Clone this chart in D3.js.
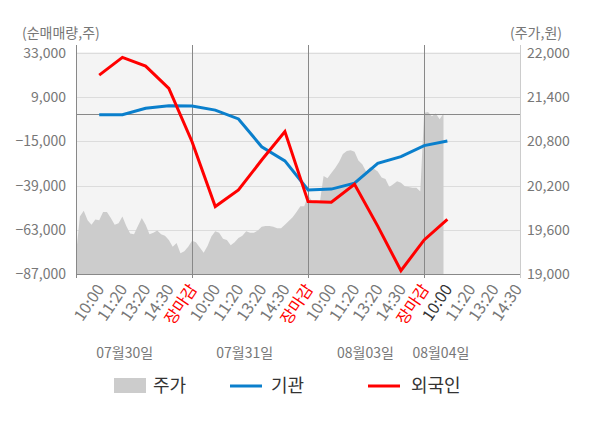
<!DOCTYPE html>
<html>
<head>
<meta charset="utf-8">
<script src="https://cdn.jsdelivr.net/npm/d3@7"></script>
<style>
  body { margin: 0; background: #fff; }
  svg { display: block; font-family: "Noto Sans CJK KR", "Noto Sans", sans-serif; }
</style>
</head>
<body>
<svg id="chart"></svg>
<script>
// x categories (one slot each), day labels
const xLabels = ['10:00', '11:20', '13:20', '14:30', '장마감',
                 '10:00', '11:20', '13:20', '14:30', '장마감',
                 '10:00', '11:20', '13:20', '14:30', '장마감',
                 '10:00', '11:20', '13:20', '14:30'];
const dayLabels = ['07월30일', '07월31일', '08월03일', '08월04일'];

// net buying (shares), one point per slot 1..16
const institution = [-500, -500, 3000, 4400, 4200, 2000, -2800, -17900,
                     -25600, -41400, -40900, -37700, -26900, -23300, -17300, -14800];
const foreigner = [21000, 30600, 25900, 13800, -15200, -50400, -41400, -25100,
                   -9700, -47700, -48000, -38300, -61000, -85200, -68500, -57300];

// stock price (won), sampled 6 times per slot
const priceDay1 = [19260, 19780, 19860, 19730, 19670, 19740, 19730, 19840, 19840, 19760,
                   19670, 19690, 19780, 19650, 19550, 19540, 19650, 19760, 19670, 19540,
                   19560, 19590, 19540, 19520, 19460, 19370, 19420, 19280, 19310, 19370, 19450];
const priceDay2 = [19430, 19360, 19290, 19380, 19510, 19580, 19560, 19480, 19460, 19390,
                   19430, 19490, 19520, 19580, 19560, 19560, 19590, 19640, 19650, 19650,
                   19640, 19620, 19620, 19670, 19720, 19770, 19840, 19920, 19920, 20070];
const priceDay3 = [19990, 19960, 19960, 20330, 20300, 20370, 20440, 20520, 20630, 20670,
                   20680, 20660, 20540, 20490, 20390, 20450, 20430, 20390, 20310, 20290,
                   20180, 20220, 20260, 20240, 20190, 20180, 20170, 20170, 20120, 21190];
const priceDay4 = [21200, 21140, 21180, 21100, 21180];

const leftTicks = [33000, 9000, -15000, -39000, -63000, -87000];
const rightTicks = [22000, 21400, 20800, 20200, 19600, 19000];

const width = 600;
const height = 428;
const plotL = 76, plotR = 520, plotT = 53, plotB = 274;

const svg = d3.select('#chart')
  .attr('width', width)
  .attr('height', height);

const x = d3.scaleLinear().domain([0, 19]).range([plotL, 517]);
const yL = d3.scaleLinear().domain([-87000, 33000]).range([plotB, plotT]);
const yR = d3.scaleLinear().domain([19000, 22000]).range([plotB, plotT]);

// plot background
svg.append('rect')
  .attr('x', plotL).attr('y', plotT - 1)
  .attr('width', plotR - plotL).attr('height', plotB - plotT + 1)
  .attr('fill', '#f4f4f4');

// horizontal grid
svg.append('g')
  .selectAll('line')
  .data(leftTicks)
  .enter()
  .append('line')
  .attr('x1', plotL).attr('x2', plotR)
  .attr('y1', d => Math.round(yL(d)) + 0.5)
  .attr('y2', d => Math.round(yL(d)) + 0.5)
  .attr('stroke', '#dcdcdc');

// price area
const prices = priceDay1.concat(priceDay2, priceDay3, priceDay4);
const area = d3.area()
  .x((d, i) => x(i / 6))
  .y0(plotB)
  .y1(d => yR(d));
svg.append('path')
  .datum(prices)
  .attr('d', area)
  .attr('fill', '#cccccc');

// zero line
svg.append('line')
  .attr('x1', plotL).attr('x2', plotR)
  .attr('y1', Math.round(yL(0)) + 0.5).attr('y2', Math.round(yL(0)) + 0.5)
  .attr('stroke', '#888');

// day separators + left axis
const bounds = [0, 5, 10, 15];
svg.append('g')
  .selectAll('line')
  .data(bounds)
  .enter()
  .append('line')
  .attr('x1', d => Math.round(x(d)) + 0.5)
  .attr('x2', d => Math.round(x(d)) + 0.5)
  .attr('y1', 45).attr('y2', plotB + 4)
  .attr('stroke', '#888');

// right axis
svg.append('line')
  .attr('x1', plotR + 0.5).attr('x2', plotR + 0.5)
  .attr('y1', 45).attr('y2', plotB + 4)
  .attr('stroke', '#ccc');

// bottom axis
svg.append('line')
  .attr('x1', plotL).attr('x2', plotR)
  .attr('y1', plotB + 0.5).attr('y2', plotB + 0.5)
  .attr('stroke', '#888');

// lines
const line = d3.line()
  .x((d, i) => x(i + 1))
  .y(d => yL(d));

svg.append('path')
  .datum(institution)
  .attr('d', line)
  .attr('fill', 'none')
  .attr('stroke', '#0a7fcc')
  .attr('stroke-width', 3);

svg.append('path')
  .datum(foreigner)
  .attr('d', line)
  .attr('fill', 'none')
  .attr('stroke', '#ff0000')
  .attr('stroke-width', 3);

// left tick labels
svg.append('g')
  .selectAll('text')
  .data(leftTicks)
  .enter()
  .append('text')
  .attr('x', 66)
  .attr('y', d => yL(d))
  .attr('dy', '0.35em')
  .attr('text-anchor', 'end')
  .attr('font-size', 14)
  .attr('fill', '#777')
  .text(d => d3.format(',')(d));

// right tick labels
svg.append('g')
  .selectAll('text')
  .data(rightTicks)
  .enter()
  .append('text')
  .attr('x', 527)
  .attr('y', d => yR(d))
  .attr('dy', '0.35em')
  .attr('font-size', 14)
  .attr('fill', '#777')
  .text(d => d3.format(',')(d));

svg.append('text')
  .attr('x', 22).attr('y', 38)
  .attr('font-size', 14).attr('fill', '#777')
  .text('(순매매량,주)');

svg.append('text')
  .attr('x', 510).attr('y', 38)
  .attr('font-size', 14).attr('fill', '#777')
  .text('(주가,원)');

// x tick labels
svg.append('g')
  .selectAll('text')
  .data(xLabels)
  .enter()
  .append('text')
  .attr('transform', (d, i) => `translate(${x(i + 1) + 1},${plotB + 12}) rotate(-56)`)
  .attr('text-anchor', 'end')
  .attr('dy', '0.35em')
  .attr('font-size', 16)
  .attr('fill', (d, i) => d === '장마감' ? '#ff0000' : (i === 15 ? '#333' : '#777'))
  .text(d => d);

// day labels
const dayAt = [2.1, 7.27, 12.47, 15.72];
svg.append('g')
  .selectAll('text')
  .data(dayLabels)
  .enter()
  .append('text')
  .attr('x', (d, i) => x(dayAt[i]))
  .attr('y', 358)
  .attr('text-anchor', 'middle')
  .attr('font-size', 14)
  .attr('fill', '#777')
  .text(d => d);

// legend
const legend = svg.append('g');
legend.append('rect')
  .attr('x', 114).attr('y', 378).attr('width', 32).attr('height', 15)
  .attr('fill', '#cccccc');
legend.append('text').attr('x', 153).attr('y', 392)
  .attr('font-size', 18).attr('fill', '#333').text('주가');
legend.append('line')
  .attr('x1', 230).attr('x2', 262).attr('y1', 386).attr('y2', 386)
  .attr('stroke', '#0a7fcc').attr('stroke-width', 3);
legend.append('text').attr('x', 271).attr('y', 392)
  .attr('font-size', 18).attr('fill', '#333').text('기관');
legend.append('line')
  .attr('x1', 368).attr('x2', 400).attr('y1', 386).attr('y2', 386)
  .attr('stroke', '#ff0000').attr('stroke-width', 3);
legend.append('text').attr('x', 411).attr('y', 392)
  .attr('font-size', 18).attr('fill', '#333').text('외국인');
</script>
</body>
</html>
